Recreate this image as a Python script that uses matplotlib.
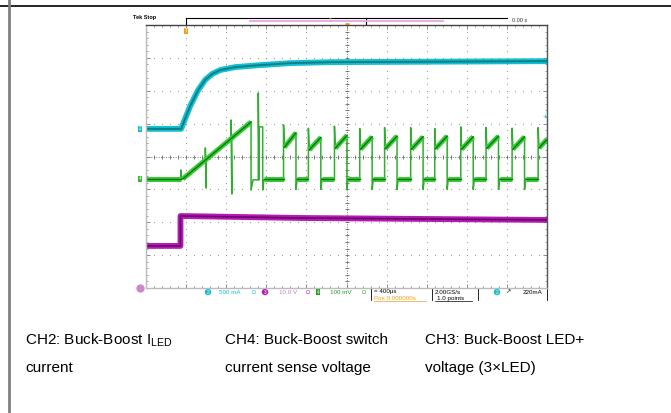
import numpy as np
import matplotlib
matplotlib.use("Agg")
import matplotlib.pyplot as plt

plt.rcParams['font.family'] = ['Liberation Sans', 'DejaVu Sans']

# scope traces, x in time divisions (0..10), y in vertical divisions (-4..4)
ch2_t = [0.0, 0.875, 1.1, 1.3, 1.475, 1.65, 1.85, 2.225, 2.85, 3.6, 4.6, 10.0]
ch2_v = [0.84, 0.84, 1.53, 2.02, 2.33, 2.51, 2.63, 2.72, 2.78, 2.84, 2.87, 2.90]

ch3_t = [0.0, 0.86, 0.86, 3.85, 10.0]
ch3_v = [-2.72, -2.72, -1.81, -1.87, -1.93]

# CH4 start-up part (soft start ramp with spikes)
ch4_start_t = [0.0, 0.87, 0.87, 0.89, 0.92, 1.48, 1.48, 1.50, 1.50, 2.12, 2.12, 2.14, 2.14,
               2.62, 2.62, 2.67, 2.80, 2.80, 2.82, 2.82, 2.91, 2.91, 2.94]
ch4_start_v = [-0.68, -0.68, -0.41, -0.68, -0.68, -0.12, 0.26, -0.96, -0.11, 0.55, 1.11,
               -1.14, 0.59, 1.05, -1.02, -0.71, -0.71, 1.93, -0.71, 0.90, 0.90, -1.02, -0.71]

# CH4 steady switching cycles
sw_on = [3.43, 4.05, 4.70, 5.33, 5.95, 6.60, 7.20, 7.85, 8.48, 9.13, 9.78]
sw_off = [3.74, 4.36, 5.01, 5.64, 6.26, 6.91, 7.51, 8.16, 8.79, 9.44, 10.0]
spike_top = [0.96, 0.86, 0.92, 0.85, 0.88, 0.88, 0.85, 0.90, 0.88, 0.86, 0.88]
ramp_lo = [0.28, 0.20, 0.25, 0.22, 0.24, 0.22, 0.24, 0.22, 0.25, 0.22, 0.26]
ramp_hi = [0.72, 0.58, 0.64, 0.60, 0.62, 0.60, 0.62, 0.60, 0.62, 0.60, 0.52]
base = -0.68
under = -1.0

t4 = list(ch4_start_t)
v4 = list(ch4_start_v)
flats = [([0.0, 0.87], [base, base]), ([0.92, 2.62], [base, 1.05]),
         ([2.94, 3.43], [base, base])]
for i in range(len(sw_on)):
    t4 += [sw_on[i], sw_on[i], sw_on[i] + 0.02]
    v4 += [base, spike_top[i], ramp_lo[i]]
    t4 += [sw_off[i]]
    v4 += [ramp_hi[i]]
    flats.append(([sw_on[i] + 0.02, sw_off[i]], [ramp_lo[i], ramp_hi[i]]))
    if sw_off[i] < 10:
        t4 += [sw_off[i], sw_off[i] + 0.03]
        v4 += [under, base]
        nxt = sw_on[i + 1] if i + 1 < len(sw_on) else 10.0
        flats.append(([sw_off[i] + 0.03, nxt], [base, base]))

W, H = 671, 413
fig = plt.figure(figsize=(W / 100, H / 100), dpi=100)

# overlay in pixel units for the table frame and text
ov = fig.add_axes([0, 0, 1, 1])
ov.set_xlim(0, W)
ov.set_ylim(H, 0)
ov.axis('off')
ov.plot([0, W], [6, 6], color='black', lw=1.2)
ov.plot([9, 9], [0, H], color='#808080', lw=2)

ax = fig.add_axes([146 / W, 1 - 288 / H, 401 / W, 263 / H])
ax.set_xlim(0, 10)
ax.set_ylim(-4, 4)
ax.set_facecolor('white')
for s in ['left', 'bottom']:
    ax.spines[s].set_color('#bbbbbb')
ax.spines['top'].set_color('#444444')
ax.spines['right'].set_color('#555555')
for s in ax.spines.values():
    s.set_linewidth(1.0)
ax.set_xticks(np.arange(0, 11, 1))
ax.set_xticks(np.arange(0, 10.01, 0.2), minor=True)
ax.set_yticks(np.arange(-4, 5, 1))
ax.set_yticks(np.arange(-4, 4.01, 0.2), minor=True)
ax.tick_params(which='both', direction='in', top=True, right=True,
               labelbottom=False, labelleft=False, color='#777777')
ax.tick_params(which='major', length=3, width=0.6)
ax.tick_params(which='minor', length=1.5, width=0.5)

# dotted grid
for gx in range(1, 10):
    if gx == 5:
        continue
    yy = np.arange(-4, 4.01, 0.2)
    ax.scatter(np.full_like(yy, gx), yy, s=0.6, color='#8a8a8a', lw=0)
for gy in range(-3, 4):
    if gy == 0:
        continue
    xx = np.arange(0, 10.01, 0.2)
    ax.scatter(xx, np.full_like(xx, gy), s=0.6, color='#8a8a8a', lw=0)
ax.axvline(5, color='#777777', lw=0.7, ls=(0, (1, 1.5)))
ax.axhline(0, color='#777777', lw=0.7, ls=(0, (1, 1.5)))
cx = np.arange(0, 10.01, 0.2)
ax.plot(cx, np.zeros_like(cx), ls='none', marker='|', ms=2.5, mew=0.6, color='#666666')
cy = np.arange(-4, 4.01, 0.2)
ax.plot(np.full_like(cy, 5), cy, ls='none', marker='_', ms=2.5, mew=0.6, color='#666666')

# traces
ax.plot(ch2_t, ch2_v, color='#12c0d0', lw=4.2, solid_capstyle='butt')
ax.plot(ch2_t, ch2_v, color='#0a7f8a', lw=1.4)
ax.plot(ch3_t, ch3_v, color='#b21cb2', lw=4.2, solid_capstyle='butt')
ax.plot(ch3_t, ch3_v, color='#6e006e', lw=1.2)
ax.plot(t4, v4, color='#2fae2f', lw=1.1)
for ft, fv in flats:
    ax.plot(ft, fv, color='#33cc33', lw=3.6, solid_capstyle='butt')
    ax.plot(ft, fv, color='#0c6e0c', lw=0.9)

# channel / trigger markers
ax.text(-0.12, 0.84, '2', color='white', fontsize=3.5, ha='right', va='center', clip_on=False,
        bbox=dict(boxstyle='square,pad=0.15', fc='#12c0d0', ec='none'))
ax.text(-0.12, -0.68, '4', color='white', fontsize=3.5, ha='right', va='center', clip_on=False,
        bbox=dict(boxstyle='square,pad=0.15', fc='#33b833', ec='none'))
ax.plot([-0.15], [-4.0], marker='o', ms=5, color='#cc88cc', clip_on=False)
ax.text(1.0, 3.82, 'T', color='white', fontsize=3.5, ha='center', va='center',
        bbox=dict(boxstyle='square,pad=0.1', fc='#f0a020', ec='none'))
ax.text(9.95, 1.2, '+', color='#12c0d0', fontsize=6, ha='center', va='center')

# top status bar
ov.text(133, 18, 'Tek Stop', fontsize=4, fontweight='bold', ha='left', va='center')
ov.plot([186, 507], [18, 18], color='black', lw=0.8)
ov.plot([186, 186], [18, 25], color='black', lw=0.8)
ov.plot([366, 366], [18, 25], color='black', lw=0.8)
ov.plot([250, 443], [21, 21], color='#e4a8e4', lw=1.3)
ov.text(330, 21, 'T', fontsize=3.5, color='#f0a020', ha='center', va='center')
ov.plot([347], [25], marker='v', ms=2.5, color='#f0a020')
ov.text(512, 21, '0.00 s', fontsize=4, ha='left', va='center', color='#333333')

# bottom status bar
ov.text(208, 292, '2', fontsize=3.5, color='white', ha='center', va='center',
        bbox=dict(boxstyle='circle,pad=0.15', fc='#12c0d0', ec='none'))
ov.text(219, 292, '500 mA', fontsize=4.5, color='#12c0d0', ha='left', va='center')
ov.text(252, 292, 'Ω', fontsize=4, color='#12c0d0', ha='left', va='center')
ov.text(265, 292, '3', fontsize=3.5, color='white', ha='center', va='center',
        bbox=dict(boxstyle='circle,pad=0.15', fc='#b21cb2', ec='none'))
ov.text(279, 292, '10.0 V', fontsize=4.5, color='#c080c0', ha='left', va='center')
ov.text(306, 292, 'Ω', fontsize=4, color='#b21cb2', ha='left', va='center')
ov.text(318, 292, '4', fontsize=3.5, color='white', ha='center', va='center',
        bbox=dict(boxstyle='square,pad=0.15', fc='#22a022', ec='none'))
ov.text(330, 292, '100 mV', fontsize=4.5, color='#22a022', ha='left', va='center')
ov.text(362, 292, 'Ω', fontsize=4, color='#22a022', ha='left', va='center')
ov.plot([371, 371], [288, 300], color='black', lw=0.6)
ov.text(374, 292, '= 400μs', fontsize=4.5, color='black', ha='left', va='center')
ov.text(374, 298.5, 'Pos 0.000000s', fontsize=4.5, color='#f0a020', ha='left', va='center')
ov.plot([374, 426], [301, 301], color='#f0a020', lw=0.5)
ov.plot([432, 432], [288, 300], color='black', lw=0.6)
ov.text(435, 292, '2.00GS/s', fontsize=4.5, color='black', ha='left', va='center')
ov.text(437, 298.5, '1.0 points', fontsize=4.5, color='black', ha='left', va='center')
ov.plot([435, 472], [301, 301], color='black', lw=0.5)
ov.plot([478, 478], [288, 300], color='black', lw=0.6)
ov.text(497, 292, '2', fontsize=3.5, color='white', ha='center', va='center',
        bbox=dict(boxstyle='circle,pad=0.15', fc='#12c0d0', ec='none'))
ov.text(505, 292, '↗', fontsize=4.5, color='black', ha='left', va='center')
ov.text(523, 292, '220mA', fontsize=4.5, color='black', ha='left', va='center')
ov.plot([547, 547], [288, 300], color='black', lw=0.6)

# table captions
cap_size = 11
ov.text(25, 340, 'CH2: Buck-Boost I$_{\\mathregular{LED}}$', fontsize=cap_size, ha='left', va='center')
ov.text(25, 368, 'current', fontsize=cap_size, ha='left', va='center')
ov.text(225, 340, 'CH4: Buck-Boost switch', fontsize=cap_size, ha='left', va='center')
ov.text(225, 368, 'current sense voltage', fontsize=cap_size, ha='left', va='center')
ov.text(425, 340, 'CH3: Buck-Boost LED+', fontsize=cap_size, ha='left', va='center')
ov.text(425, 368, 'voltage (3×LED)', fontsize=cap_size, ha='left', va='center')

fig.savefig('out.png', dpi=100)
